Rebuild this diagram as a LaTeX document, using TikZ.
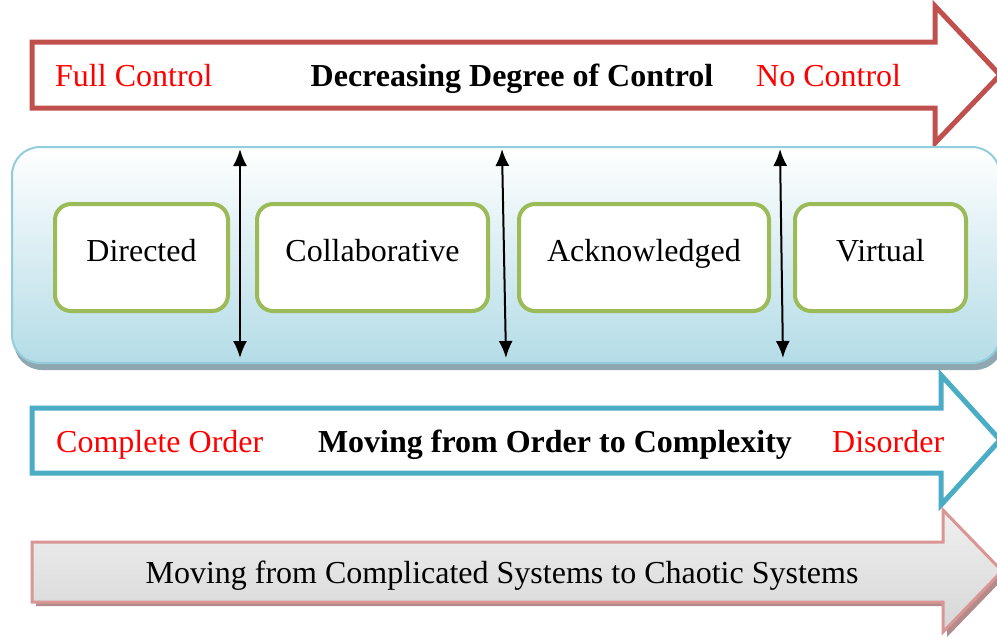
\documentclass[tikz,border=0pt]{standalone}
\usepackage{fontspec}
\setmainfont{Liberation Serif}
\definecolor{control red}{HTML}{C0504D}
\definecolor{order blue}{HTML}{4BACC6}
\definecolor{panel blue}{HTML}{B4DCE7}
\definecolor{panel edge}{HTML}{92CDDC}
\definecolor{panel shadow}{HTML}{8FA7B0}
\definecolor{type green}{HTML}{9BBB59}
\definecolor{chaos pink}{HTML}{D99694}
\definecolor{chaos shadow}{HTML}{B38B8A}
\usepackage{tikz}
\usetikzlibrary{arrows.meta,positioning}
\tikzstyle{line} = [line width=2pt]
\tikzstyle{<line>} = [line,{Latex[length=17pt, width=14pt]}-{Latex[length=17pt, width=14pt]}]
\tikzstyle{big arrow} = [line width=5pt, miter limit=20]
\tikzstyle{type node} = [draw=type green, line width=4pt, rounded corners=16pt, fill=white, minimum height=107pt, text height=22pt, text depth=15pt, font=\fontsize{32}{38}\selectfont]
\tikzstyle{end label} = [inner sep=0pt, text=red, font=\fontsize{32}{38}\selectfont]
\tikzstyle{title label} = [inner sep=0pt, font=\bfseries\fontsize{32}{38}\selectfont]

\begin{document}
\begin{tikzpicture}[x=1pt,y=-1pt]
        \useasboundingbox (0,0) rectangle (997,638);
        \clip (0,0) rectangle (997,638);
        % control arrow
        \draw[big arrow,draw=control red] (32,42) -- (935,42) -- (935,6) -- (1000,75) -- (935,143) -- (935,108) -- (32,108) -- cycle;
        \node[end label,anchor=base west] (full-control) at (55,86) {Full Control};
        \node[title label,anchor=base] (control-title) at (512,86) {Decreasing Degree of Control};
        \node[end label,anchor=base west] (no-control) at (756,86) {No Control};

        % panel of system types
        \fill[panel shadow,rounded corners=28pt] (14,153) rectangle (1003,370);
        \shadedraw[top color=white,bottom color=panel blue,draw=panel edge,line width=2pt,rounded corners=28pt] (12,147) rectangle (1000,363);

        \node[type node,minimum width=173pt] (directed) at (141.5,257.5) {Directed};
        \node[type node,minimum width=231pt] (collaborative) at (372.5,257.5) {Collaborative};
        \node[type node,minimum width=250pt] (acknowledged) at (644,257.5) {Acknowledged};
        \node[type node,minimum width=171pt] (virtual) at (880.5,257.5) {Virtual};

        \coordinate (sep1-top) at (240,149);
        \coordinate (sep1-bottom) at (240,358);
        \coordinate (sep2-top) at (502,149);
        \coordinate (sep2-bottom) at (506,358);
        \coordinate (sep3-top) at (780,149);
        \coordinate (sep3-bottom) at (783,358);
        \draw[<line>] (sep1-top) -- (sep1-bottom);
        \draw[<line>] (sep2-top) -- (sep2-bottom);
        \draw[<line>] (sep3-top) -- (sep3-bottom);

        % order arrow
        \draw[big arrow,draw=order blue] (32,408) -- (941,408) -- (941,375) -- (1000,440) -- (941,505) -- (941,473) -- (32,473) -- cycle;
        \node[end label,anchor=base west] (complete-order) at (56,452) {Complete Order};
        \node[title label,anchor=base] (order-title) at (555,452) {Moving from Order to Complexity};
        \node[end label,anchor=base west] (disorder) at (832,452) {Disorder};

        % systems arrow
        \fill[chaos shadow] (36,546) -- (947,546) -- (947,514) -- (1006,576) -- (947,637) -- (947,606) -- (36,606) -- cycle;
        \shadedraw[top color=gray!12,bottom color=gray!32,draw=chaos pink,line width=3pt,miter limit=20] (32,542) -- (943,542) -- (943,510) -- (1002,571) -- (943,632) -- (943,602) -- (32,602) -- cycle;
        \node[inner sep=0pt,anchor=base,font=\fontsize{32}{38}\selectfont] (systems-title) at (502,583) {Moving from Complicated Systems to Chaotic Systems};
\end{tikzpicture}
\end{document}
